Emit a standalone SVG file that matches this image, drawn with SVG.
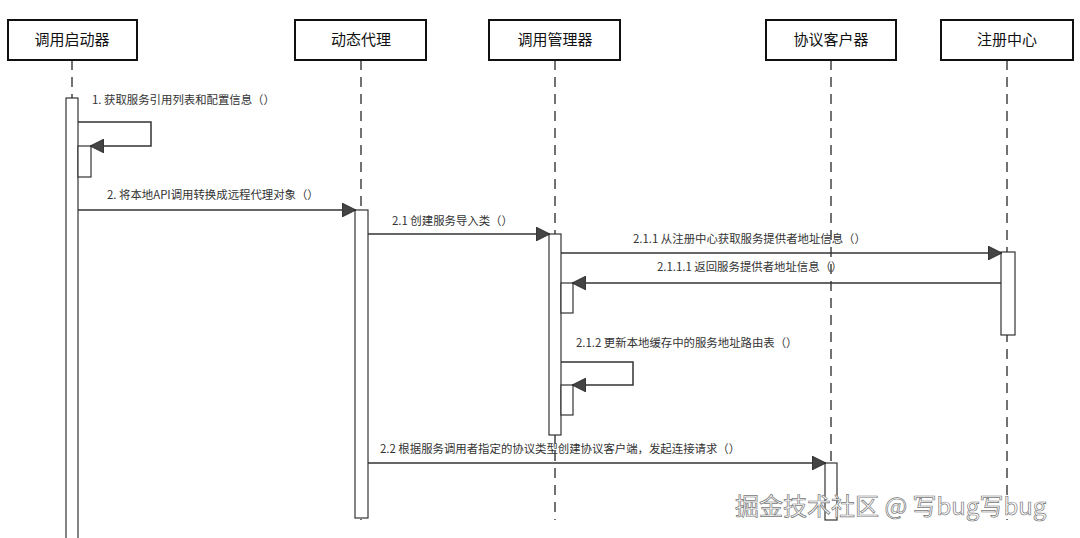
<svg xmlns="http://www.w3.org/2000/svg" width="1080" height="538" viewBox="0 0 1080 538">
<style>
.hd{fill:#fff;stroke:#111;stroke-width:2}
.ht{font-family:"Noto Sans CJK SC","Liberation Sans",sans-serif;font-size:15px;fill:#111;text-anchor:middle}
.ll{stroke:#444;stroke-width:1.5;stroke-dasharray:10 7;fill:none}
.act{fill:#fff;stroke:#333;stroke-width:1.2}
.m{stroke:#333;stroke-width:1.5;fill:none;marker-end:url(#a)}
.lb{font-family:"Noto Sans CJK SC","Liberation Sans",sans-serif;font-size:11.4px;fill:#333}
</style>
<defs>
<marker id="a" markerWidth="14" markerHeight="14" refX="13" refY="7" orient="auto" markerUnits="userSpaceOnUse">
<path d="M0,0 L14,7 L0,14 Z" fill="#444" stroke="#222" stroke-width="0.8"/>
</marker>
</defs>
<rect width="1080" height="538" fill="#fff"/>
<g id="lifelines">
<line class="ll" x1="72" y1="60" x2="72" y2="98"/>
<line class="ll" x1="361" y1="60" x2="361" y2="520"/>
<line class="ll" x1="555" y1="60" x2="555" y2="520"/>
<line class="ll" x1="831" y1="60" x2="831" y2="520"/>
<line class="ll" x1="1007" y1="60" x2="1007" y2="520"/>
</g>
<g id="n1"><rect class="hd" x="8" y="20" width="129" height="40"/><text class="ht" x="72" y="45">调用启动器</text></g>
<g id="n2"><rect class="hd" x="295" y="20" width="131" height="40"/><text class="ht" x="361" y="45">动态代理</text></g>
<g id="n3"><rect class="hd" x="489" y="20" width="131" height="40"/><text class="ht" x="555" y="45">调用管理器</text></g>
<g id="n4"><rect class="hd" x="766" y="20" width="130" height="40"/><text class="ht" x="831" y="45">协议客户器</text></g>
<g id="n5"><rect class="hd" x="941" y="20" width="132" height="40"/><text class="ht" x="1007" y="45">注册中心</text></g>
<g id="activations">
<rect class="act" x="66" y="98" width="12" height="445"/>
<rect class="act" x="78" y="146" width="13" height="31"/>
<rect class="act" x="355" y="210" width="13" height="308"/>
<rect class="act" x="549" y="234" width="12" height="201"/>
<rect class="act" x="561" y="283" width="12" height="30"/>
<rect class="act" x="561" y="385" width="12" height="30"/>
<rect class="act" x="1001" y="252" width="14" height="83"/>
<rect class="act" x="825" y="463" width="12" height="57"/>
</g>
<g id="connectors">
<path class="m" d="M78,122 H151 V146 H91"/>
<path class="m" d="M78,210 H355"/>
<path class="m" d="M368,234 H549"/>
<path class="m" d="M561,253 H1001"/>
<path class="m" d="M1001,283 H573"/>
<path class="m" d="M561,362 H633 V385 H573"/>
<path class="m" d="M368,463 H825"/>
</g>
<g id="labels">
<text class="lb" x="92" y="104">1. 获取服务引用列表和配置信息（）</text>
<text class="lb" x="107" y="199">2. 将本地API调用转换成远程代理对象（）</text>
<text class="lb" x="392" y="225">2.1 创建服务导入类（）</text>
<text class="lb" x="633" y="243">2.1.1 从注册中心获取服务提供者地址信息（）</text>
<text class="lb" x="657" y="271">2.1.1.1 返回服务提供者地址信息（）</text>
<text class="lb" x="576" y="347">2.1.2 更新本地缓存中的服务地址路由表（）</text>
<text class="lb" x="380" y="453">2.2 根据服务调用者指定的协议类型创建协议客户端，发起连接请求（）</text>
</g>
<text x="735" y="515" font-family="Noto Sans CJK SC,Liberation Sans,sans-serif" font-size="24" fill="#fff" stroke="#777" stroke-width="0.7">掘金技术社区 @ 写bug写bug</text>
</svg>
